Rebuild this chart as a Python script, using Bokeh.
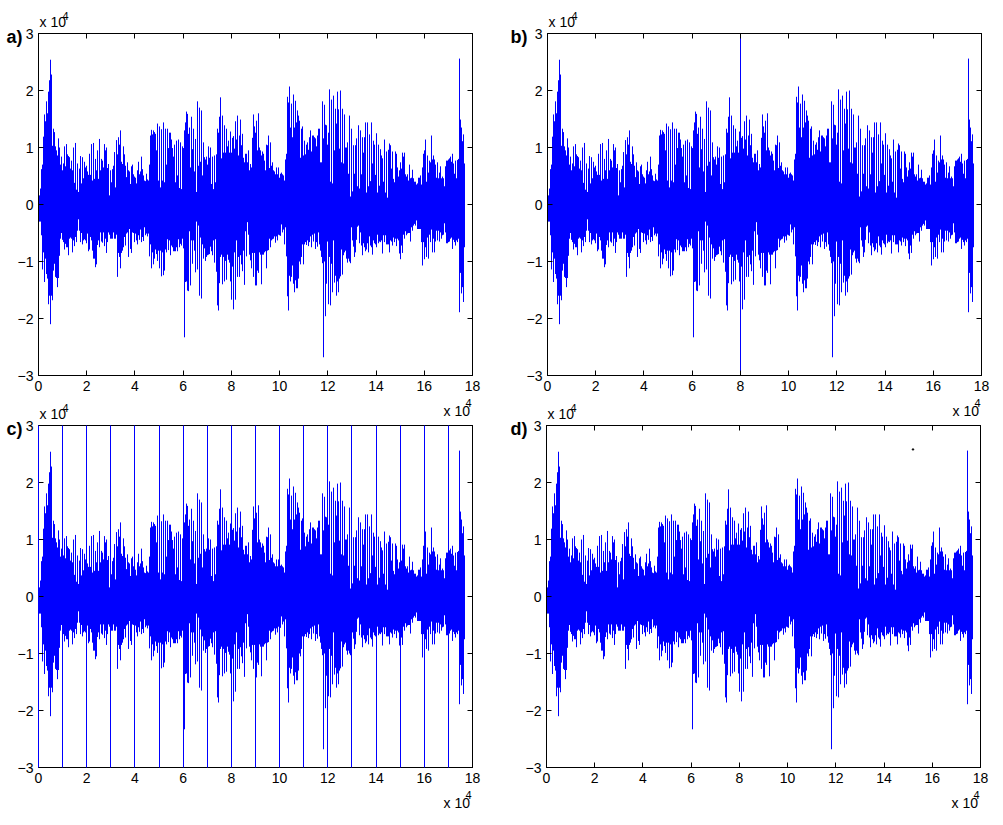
from bokeh.embed import file_html
from bokeh.resources import INLINE
from bokeh.layouts import column, row
from bokeh.models import Label, LinearAxis, FixedTicker, Range1d
from bokeh.plotting import figure

# Amplitude envelope of the signal, in units of 1e4, one value per plotted column
upper_1 = [.16,.16,.28,.62,.70,1.19,1.58,1.46,1.81,1.60,1.98,2.18,2.54,2.28,1.03,1.33,1.27,1.02,.95,.86,1.16,1.0,.70,.84,.60,.72,1.02,.67,1.06,.88,.85,.83,.63,.77,.60,1.0,.38,1.08,.26,.72,.22,.63,.85,.37,.83,.46,.75,.65,.68,.58,.52,.89,.52,1.06,.42,1.08,.45,.8,.6,.95,.45,1.15,.6,.8,.77,.65,1.06,.95,1.0,.64,.71,.16,.6,.39,.62,.68,.92,.3,1.13,.88,1.18,1.05,1.3,.75,.71,1.02,.88,.68,.48,.74,.6,.58,.36,.67,.7,.53,.49,.47,.37,.6,.75,.53,.58,.84,.62,.51,.42,.41]
lower_1 = [.12,.3,.3,.54,1.14,.84,1.36,.95,1.22,1.3,1.75,1.6,2.1,1.6,1.68,1.16,1.04,1.27,1.29,1.45,1.29,.9,.6,.5,.62,.66,.79,.69,.75,.75,.89,.6,.58,.6,.84,.63,.73,.57,.66,.46,.26,.46,.66,.5,.7,.63,.61,.63,.68,.51,.82,.79,.57,.63,.81,.95,.95,1.1,1.05,.71,.63,.75,.49,.65,.67,.49,.73,.6,.85,.66,.49,.53,.6,.6,.6,.49,.6,.6,.53,1.27,.85,.92,1.12,.85,.81,.75,.57,.72,.51,.49,.92,.43,.78,.85,.49,.5,.66,.51,.63,.7,.54,.62,.44,.66,.57,.64,.4,.54]
upper_2 = [.54,.44,.42,.7,1.21,1.31,1.23,1.3,1.27,1.24,.95,1.42,.42,1.37,.3,1.32,.42,1.44,.39,1.33,.7,1.33,.99,1.26,1.26,1.14,.99,.84,1.05,.39,1.12,.51,1.14,.29,1.09,.27,1.02,.99,1.3,1.44,1.63,1.59,1.24,1.35,.65,1.54,.97,1.33,.58,1.15,.22,1.81,.68,1.7,.75,1.65,.51,1.09,.83,.79,.84,.7,1.02,.82,1.0,.36,.84,.27,.86,.39,.88,1.33,1.26,1.54,1.88,.81,1.56,.91,1.39,.91,1.33,1.02,1.12,.91,1.28,.91,1.17,1.2,.98,1.46,1.14,1.56,.86,1.21,1.49,1.04,1.24,.82,.74,.89,.89,.74,.95,.6,.71,.65,1.17,1.58,1.37,1.26]
lower_2 = [.51,.56,.51,.91,.7,1.12,.84,1.05,.95,.79,.87,.99,.81,1.12,.81,1.26,.84,1.24,1.16,.79,.84,.61,.8,.63,.89,.72,.75,.82,.82,.82,.75,.82,.61,.75,.69,.72,.6,.77,2.33,1.36,1.35,1.51,1.52,.47,1.42,.63,1.04,.63,.81,1.19,.3,1.14,.37,1.6,.58,1.65,.7,.95,.77,.99,.92,.89,.88,.87,.74,.82,.89,.63,1.02,.61,1.18,1.77,1.86,1.38,.92,.88,1.4,.92,1.35,.99,1.32,.88,.97,1.02,1.35,1.67,1.09,1.84,.84,1.67,.63,1.27,.92,1.27,.89,1.05,1.17,.81,1.41,.47,.91,.31,.53,.88,.98,1.12,.85,1.27,.85,1.42]
upper_3 = [1.47,.95,1.6,1.0,.95,.86,.93,.89,.77,.6,1.05,1.04,1.21,.64,1.09,.68,.74,.6,.58,.53,.65,.53,.65,.47,.54,.56,.53,.51,.42,.79,.89,1.89,1.79,2.07,1.35,1.77,1.18,1.93,1.35,1.82,1.44,1.65,1.56,1.47,.82,1.33,1.37,.86,1.12,.88,1.05,1.09,.96,1.18,1.3,.93,1.21,1.21,1.18,1.16,1.02,1.21,1.33,1.33,.74,.74,1.81,1.16,1.75,1.4,1.39,1.05,1.26,2.02,.4,1.84,.37,1.91,.95,1.68,1.42,1.98,1.67,.98,2.0,.74,1.68,.72,1.58,1.0,1.0,1.09,.54,1.56,.14,1.33,.23,1.04,.54,1.04,1.16,.32,1.39,.28,1.3,.53,1.18,.91,1.18,1.44]
lower_3 = [1.42,1.16,1.2,.84,.88,1.4,.88,.88,.84,.82,1.12,.81,.8,.6,.75,.63,.61,.6,.56,.67,.56,.63,.53,.54,.55,.35,.49,.44,.7,.4,.91,1.61,1.86,1.25,1.35,1.27,1.07,1.39,1.54,1.33,1.47,1.47,1.3,1.0,1.05,.92,.7,1.05,.7,.66,.71,.63,.73,.66,.56,.75,.53,.65,.51,.78,.66,.74,.49,.7,.81,.92,1.03,2.68,1.0,1.96,1.39,.65,1.75,.92,1.77,1.04,1.54,.63,1.37,1.25,1.6,1.35,1.54,1.3,1.26,.79,1.23,.89,.84,.81,.95,1.02,.95,1.0,1.03,.4,.63,.74,.92,.84,.62,.39,.37,.68,.49,.72,.89,.68,.75,.82]
upper_4 = [.21,1.44,.32,1.23,.41,1.44,.72,1.12,1.05,.52,1.25,.21,1.05,.33,.97,.86,.81,.4,1.14,.21,.93,.12,.96,1.07,1.04,.63,.93,.45,.39,.93,.89,.65,.49,.6,.74,.63,.91,.84,.91,.53,.49,.53,.42,.7,.46,.47,.61,.46,.4,.4,.35,.37,.47,.47,.51,.35,.65,.89,.95,1.14,.4,.86,.56,.77,.74,1.21,.79,.86,.79,.7,.47,.74,.46,.56,.67,.46,.49,.46,.32,.67,.77,.77,.79,.81,.84,.75,.89,.72,.54,.77,.46,.78,.8,2.56,1.49,1.35,1.11,1.23,.72]
lower_4 = [.79,.68,.84,.56,.72,.75,.88,.63,.68,.7,.75,.53,.68,.65,.66,.63,.86,.54,.66,.54,.7,.7,.7,.84,.63,.65,.72,.58,.66,.6,.73,.6,.63,.86,.96,.72,.85,.53,.6,.47,.54,.51,.5,.5,.65,.4,.46,.37,.34,.37,.28,.43,.43,.43,.43,.66,1.07,.66,.96,.75,.92,.58,.95,.53,.66,.44,.84,.6,.84,.65,.46,.63,.46,.65,.49,.6,.54,.53,.33,.49,.68,.68,.66,.65,.6,.58,.78,.62,.66,.72,.63,.66,.6,1.89,1.2,1.56,1.45,1.71,.75]

upper = upper_1 + upper_2 + upper_3 + upper_4
lower = lower_1 + lower_2 + lower_3 + lower_4
n_col = min(len(upper), len(lower))

x_ticks = [0, 2, 4, 6, 8, 10, 12, 14, 16, 18]
y_ticks = [-3, -2, -1, 0, 1, 2, 3]
b_line = [8]
c_lines = [0, 1, 2, 3, 4, 5, 6, 7, 8, 9, 10, 11, 12, 13, 14, 15, 16, 17]
d_dot_x = [15.2]
d_dot_y = [2.58]

FW, FH = 434, 342
PX = 18 / FW
x_col = [i * PX for i in range(n_col)]
y_up = upper[:n_col]
y_down = [-v for v in lower[:n_col]]
FONT = "Liberation Sans"
BLUE = "#0000ff"


def snap(v):
    return round(v / PX) * PX


def label(p, side, x, y, text, size="14px", style="normal"):
    p.add_layout(Label(x=x, y=y, x_units="screen", y_units="screen", text=text,
                       text_font=FONT, text_font_size=size, text_font_style=style,
                       text_color="black", text_baseline="alphabetic"), side)


def panel(tag, fig_w, fig_h, left, top, tag_x, margin=(0, 0, 0, 0)):
    p = figure(width=fig_w, height=fig_h, frame_width=FW, frame_height=FH,
               x_range=Range1d(0, 18), y_range=Range1d(-3, 3),
               output_backend="svg", toolbar_location=None, margin=margin,
               border_fill_color=None,
               min_border_left=left, min_border_top=top,
               min_border_right=fig_w - left - FW,
               min_border_bottom=fig_h - top - FH)
    p.grid.visible = False
    p.outline_line_color = "black"
    p.xaxis.ticker = FixedTicker(ticks=x_ticks)
    p.yaxis.ticker = FixedTicker(ticks=y_ticks)
    for ax in (p.xaxis[0], p.yaxis[0]):
        ax.major_tick_in = 5
        ax.major_tick_out = 0
        ax.minor_tick_line_color = None
        ax.major_label_text_font = FONT
        ax.major_label_text_font_size = "14px"
        ax.major_label_text_color = "black"
        ax.axis_line_color = "black"
        ax.major_tick_line_color = "black"
    p.xaxis.major_label_standoff = 5
    p.yaxis.major_label_standoff = 5
    for side, ticks in (("right", y_ticks), ("above", x_ticks)):
        p.add_layout(LinearAxis(ticker=FixedTicker(ticks=ticks), major_tick_in=5, major_tick_out=0,
                                minor_tick_line_color=None, major_label_text_font_size="0px",
                                major_label_standoff=0, major_label_text_color=None,
                                axis_line_color="black"), side)
    p.segment(x_col, y_down, x_col, y_up, line_color=BLUE, line_width=1)
    # Offsets: x from the side panel's left edge, y up from the side panel's lower edge
    label(p, "left", tag_x, 339, tag, size="18px", style="bold")
    label(p, "above", 1, 12, "x 10")
    label(p, "below", 405, -1, "x 10")
    label(p, "right", -410, 360, "4", size="11px")
    label(p, "right", -13, -27, "4", size="11px")
    return p


a = panel("a)", 504, 420, 42, 33, 8, margin=(0, 0, 0, -4))
b = panel("b)", 499, 420, 47, 33, 4)
c = panel("c)", 504, 419, 42, 27, 8, margin=(-22, 0, 0, -4))
d = panel("d)", 499, 419, 46, 27, 5, margin=(-22, 0, 0, 0))

b.segment([snap(v) for v in b_line], [-3], [snap(v) for v in b_line], [3], line_color=BLUE, line_width=1)
c.segment([snap(v) for v in c_lines], [-3] * len(c_lines), [snap(v) for v in c_lines], [3] * len(c_lines),
          line_color=BLUE, line_width=1, level="overlay")
d.scatter(d_dot_x, d_dot_y, size=1.5, color="black")

page = column(row(a, b, spacing=0), row(c, d, spacing=0), spacing=0)
open("out.html", "w").write(file_html(page, INLINE))
